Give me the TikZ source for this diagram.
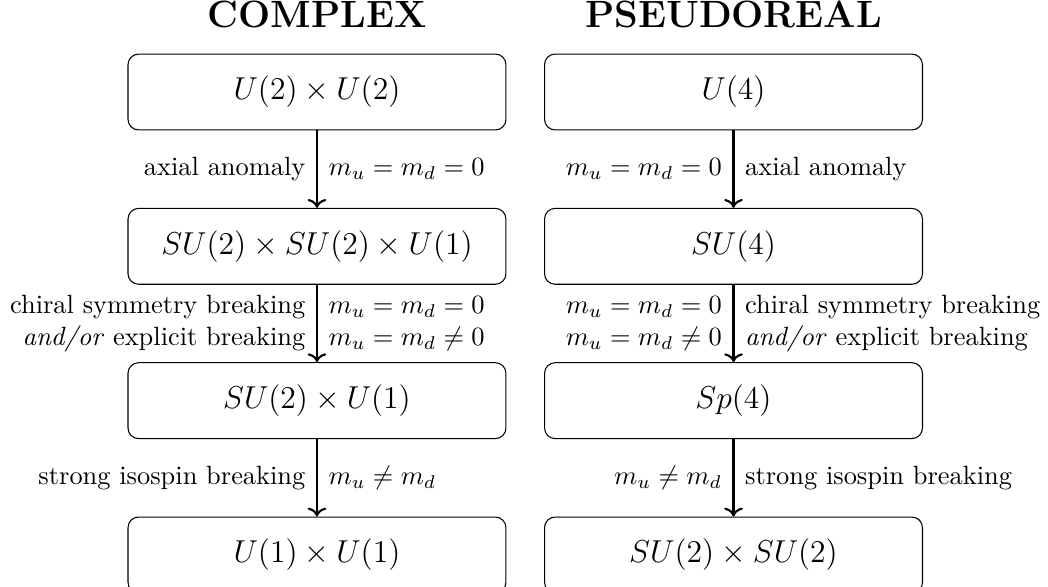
\documentclass[tikz,border=0pt]{standalone}
\usepackage{amsmath,amssymb}
\usepackage{tikz}
\usetikzlibrary{arrows.meta, positioning}

\begin{document}
\begin{tikzpicture}[
    group/.style={draw, rounded corners, align=center, font=\large, minimum width=5.03cm, minimum height=1.01cm, inner sep=5pt},
    title/.style={font=\Large\bfseries},
    flow/.style={-{To}, thick},
    note/.style={midway, inner sep=4pt},
    node distance=1.03cm
]
\useasboundingbox (-4.219,-6.588) rectangle (9.730,1.2245);
% complex case
\node[group] (cu2) {$U(2)\times U(2)$};
\node[group, below=of cu2] (csu2) {$SU(2)\times SU(2)\times U(1)$};
\node[group, below=of csu2] (csu2u1) {$SU(2)\times U(1)$};
\node[group, below=of csu2u1] (cu1) {$U(1)\times U(1)$};
\node[title, above=0.21cm of cu2] (hcomplex) {COMPLEX};
\draw[flow] (cu2) -- (csu2)
    node[note, left] {axial anomaly}
    node[note, right] {$m_u=m_d=0$};
\draw[flow] (csu2) -- (csu2u1)
    node[note, left, align=right] {chiral symmetry breaking\\\emph{and/or} explicit breaking}
    node[note, right, align=left] {$m_u=m_d=0$\\$m_u=m_d\neq 0$};
\draw[flow] (csu2u1) -- (cu1)
    node[note, left] {strong isospin breaking}
    node[note, right] {$m_u\neq m_d$};
% pseudoreal case
\node[group, right=0.5cm of cu2] (pu4) {$U(4)$};
\node[group, below=of pu4] (psu4) {$SU(4)$};
\node[group, below=of psu4] (psp4) {$Sp(4)$};
\node[group, below=of psp4] (psu2) {$SU(2)\times SU(2)$};
\node[title, above=0.21cm of pu4] (hpseudo) {PSEUDOREAL};
\draw[flow] (pu4) -- (psu4)
    node[note, left] {$m_u=m_d=0$}
    node[note, right] {axial anomaly};
\draw[flow] (psu4) -- (psp4)
    node[note, left, align=right] {$m_u=m_d=0$\\$m_u=m_d\neq 0$}
    node[note, right, align=left] {chiral symmetry breaking\\\emph{and/or} explicit breaking};
\draw[flow] (psp4) -- (psu2)
    node[note, left] {$m_u\neq m_d$}
    node[note, right] {strong isospin breaking};
\end{tikzpicture}
\end{document}
